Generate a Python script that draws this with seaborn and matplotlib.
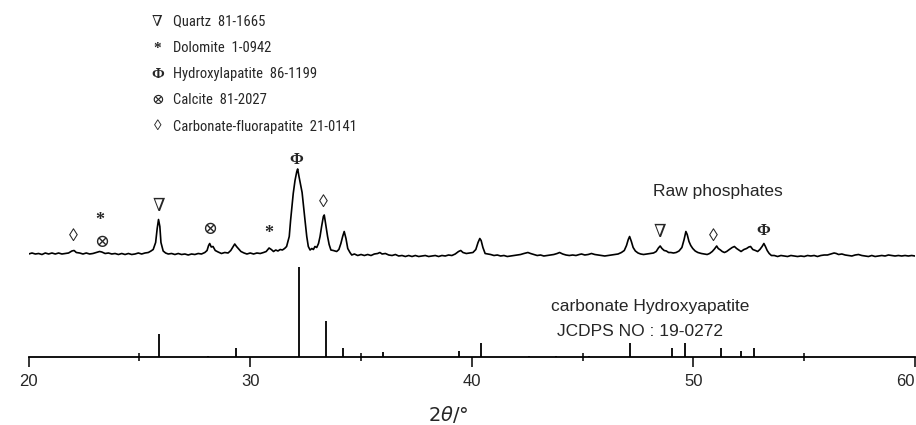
import os
import numpy as np
import pandas as pd
import matplotlib
matplotlib.use("Agg")
import matplotlib.pyplot as plt
import seaborn as sns
from matplotlib import font_manager
from matplotlib.font_manager import FontProperties

# Measured XRD pattern of the raw phosphate (2theta in degrees, counts above background, a.u.)
pattern_2theta = [
    20.00, 20.15, 20.30, 20.45, 20.60, 20.75, 20.90, 21.05, 21.20, 21.35, 21.50, 21.65, 21.80,
    21.95, 22.05, 22.15, 22.30, 22.45, 22.60, 22.75, 22.90, 23.05, 23.20, 23.30, 23.45, 23.60,
    23.75, 23.90, 24.05, 24.20, 24.35, 24.50, 24.65, 24.80, 24.95, 25.10, 25.25, 25.40, 25.52,
    25.62, 25.73, 25.80, 25.86, 25.92, 25.97, 26.07, 26.18, 26.30, 26.45, 26.60, 26.75, 26.90,
    27.05, 27.20, 27.35, 27.50, 27.65, 27.80, 27.95, 28.05, 28.12, 28.17, 28.24, 28.32, 28.42,
    28.55, 28.70, 28.85, 29.00, 29.12, 29.22, 29.30, 29.38, 29.46, 29.58, 29.72, 29.85, 30.00,
    30.15, 30.30, 30.45, 30.60, 30.72, 30.85, 30.95, 31.05, 31.15, 31.25, 31.35, 31.45, 31.55,
    31.64, 31.76, 31.82, 31.88, 31.94, 32.02, 32.10, 32.14, 32.20, 32.29, 32.34, 32.39, 32.47,
    32.55, 32.62, 32.70, 32.78, 32.85, 32.92, 33.00, 33.08, 33.15, 33.22, 33.30, 33.34, 33.40,
    33.49, 33.56, 33.64, 33.75, 33.90, 34.00, 34.09, 34.17, 34.24, 34.32, 34.40, 34.50, 34.58,
    34.70, 34.85, 35.00, 35.15, 35.30, 35.45, 35.60, 35.75, 35.85, 35.95, 36.10, 36.25, 36.40,
    36.55, 36.70, 36.85, 37.00, 37.15, 37.30, 37.45, 37.60, 37.75, 37.90, 38.05, 38.20, 38.35,
    38.50, 38.65, 38.80, 38.95, 39.10, 39.25, 39.40, 39.50, 39.60, 39.75, 39.90, 40.05, 40.18,
    40.28, 40.36, 40.42, 40.50, 40.60, 40.72, 40.85, 41.00, 41.15, 41.30, 41.45, 41.60, 41.75,
    41.90, 42.05, 42.20, 42.35, 42.53, 42.65, 42.80, 42.95, 43.10, 43.25, 43.40, 43.55, 43.70,
    43.85, 43.96, 44.10, 44.25, 44.40, 44.55, 44.70, 44.85, 44.95, 45.10, 45.25, 45.40, 45.55,
    45.70, 45.85, 46.00, 46.15, 46.30, 46.45, 46.60, 46.75, 46.88, 46.98, 47.06, 47.12, 47.20,
    47.28, 47.38, 47.50, 47.62, 47.75, 47.90, 48.05, 48.20, 48.32, 48.42, 48.50, 48.58, 48.68,
    48.78, 48.88, 48.98, 49.10, 49.22, 49.35, 49.48, 49.58, 49.66, 49.72, 49.80, 49.88, 49.97,
    50.08, 50.20, 50.36, 50.50, 50.62, 50.73, 50.85, 50.95, 51.05, 51.12, 51.22, 51.30, 51.40,
    51.50, 51.62, 51.75, 51.85, 51.95, 52.05, 52.15, 52.28, 52.40, 52.50, 52.58, 52.68, 52.80,
    52.90, 53.00, 53.10, 53.18, 53.25, 53.33, 53.42, 53.52, 53.65, 53.80, 53.95, 54.10, 54.25,
    54.40, 54.55, 54.70, 54.85, 55.00, 55.15, 55.30, 55.45, 55.60, 55.75, 55.90, 56.05, 56.20,
    56.35, 56.45, 56.55, 56.70, 56.85, 57.00, 57.15, 57.30, 57.45, 57.60, 57.75, 57.90, 58.05,
    58.20, 58.35, 58.50, 58.65, 58.80, 58.95, 59.10, 59.25, 59.40, 59.55, 59.70, 59.85, 60.00,
]
pattern_counts = [
    2.5, 3.5, 2.5, 3.0, 2.0, 3.5, 2.5, 3.5, 2.5, 3.5, 2.5, 3.0, 3.5,
    5.5, 6.0, 4.0, 3.5, 2.5, 3.5, 2.5, 3.0, 4.0, 5.0, 4.5, 3.0, 3.5,
    2.5, 3.0, 2.0, 3.0, 2.0, 3.0, 2.0, 2.5, 3.5, 2.5, 3.5, 4.0, 5.5,
    7.0, 14.0, 28.0, 37.0, 30.0, 14.0, 5.5, 3.5, 2.5, 3.0, 2.0, 3.0, 2.0,
    2.5, 1.5, 2.5, 2.0, 3.0, 2.5, 4.0, 6.0, 11.0, 13.0, 9.5, 10.0, 6.0,
    4.5, 3.0, 4.0, 3.5, 6.0, 9.5, 12.5, 10.0, 8.0, 5.0, 3.5, 2.5, 3.5,
    2.5, 3.5, 3.0, 4.0, 5.0, 8.5, 7.0, 5.0, 6.5, 5.5, 7.0, 6.5, 8.0,
    10.0, 20.0, 36.0, 50.0, 63.0, 76.0, 85.0, 87.5, 80.0, 70.0, 64.0, 53.0, 36.5,
    20.0, 10.0, 6.5, 8.0, 7.0, 10.0, 9.0, 13.0, 20.0, 30.0, 40.0, 41.5, 33.0,
    20.0, 12.0, 6.5, 6.0, 5.0, 7.0, 13.0, 20.0, 25.0, 18.0, 8.0, 4.0, 1.5,
    2.5, 1.0, 2.0, 1.0, 2.0, 1.0, 2.5, 3.0, 4.0, 2.5, 3.0, 1.5, 1.0,
    2.0, 0.5, 1.0, 0.0, 1.0, 0.0, 1.0, 0.0, 0.5, 1.0, 0.0, 0.5, 1.0,
    0.0, 1.0, 0.5, 1.5, 1.0, 2.5, 5.0, 6.0, 4.0, 3.0, 3.5, 4.0, 7.0,
    14.0, 18.0, 16.0, 9.0, 3.0, 2.5, 2.0, 1.0, 1.5, 0.5, 1.0, 0.0, 0.5,
    1.0, 1.5, 2.0, 3.0, 4.0, 3.0, 2.0, 1.0, 1.5, 0.5, 1.0, 1.5, 2.0,
    3.0, 4.0, 2.5, 1.5, 1.0, 1.5, 1.0, 2.0, 2.5, 1.5, 2.0, 3.0, 2.0,
    1.5, 1.0, 0.5, 1.0, 1.5, 2.0, 2.5, 4.0, 6.0, 11.0, 17.0, 20.0, 15.0,
    9.0, 5.5, 3.5, 2.5, 2.0, 2.5, 3.0, 3.5, 5.0, 8.5, 10.5, 8.0, 6.0,
    5.5, 4.0, 4.0, 3.5, 4.0, 5.5, 9.0, 17.0, 25.0, 22.0, 15.0, 11.0, 8.0,
    5.5, 4.0, 3.0, 2.5, 2.0, 3.0, 5.0, 7.5, 10.5, 8.0, 6.5, 5.0, 4.0,
    5.0, 7.0, 9.0, 10.0, 8.0, 6.5, 5.0, 7.0, 8.0, 9.5, 10.0, 7.0, 6.0,
    5.0, 7.0, 10.0, 13.0, 10.0, 6.0, 3.0, 1.0, 1.0, 0.0, 1.0, 0.5, 0.0,
    1.0, 0.5, 0.0, 0.5, 0.0, 1.0, 0.5, 1.0, 0.0, 1.0, 1.5, 1.5, 2.5,
    3.5, 3.0, 2.0, 2.5, 1.5, 1.0, 0.5, 1.5, 2.0, 1.0, 0.5, 0.0, 1.0,
    0.0, 0.5, 1.0, 0.5, 1.5, 1.0, 0.5, 1.0, 0.5, 1.0, 0.5, 1.0, 0.5,
]

# Reference card: carbonate hydroxyapatite, JCPDS 19-0272 (relative intensity, strongest = 100)
ref_2theta = [25.88, 28.10, 29.36, 32.20, 33.40, 34.20, 36.00, 39.40, 40.40,
              42.60, 43.80, 45.30, 47.12, 49.04, 49.62, 51.26, 52.17, 52.74]
ref_intensity = [26, 1, 10, 100, 40, 10, 6, 7, 16,
                 1, 1, 1, 16, 10, 16, 10, 7, 10]

# Axis ticks
major_ticks = [20, 30, 40, 50, 60]
minor_ticks = [25, 35, 45, 55]
tick_labels = ["20", "30", "40", "50", "60"]

# Phase identification
phase_symbols = ["\u2207", "*", "\u03a6", "\u2297", "\u25ca"]
phase_names = ["Quartz  81-1665", "Dolomite  1-0942", "Hydroxylapatite  86-1199",
               "Calcite  81-2027", "Carbonate-fluorapatite  21-0141"]
peak_symbols = ["\u25ca", "*", "\u2297", "\u2207", "\u2297", "*", "\u03a6", "\u25ca",
                "\u2207", "\u25ca", "\u03a6"]
peak_positions = [22.0, 23.22, 23.28, 25.87, 28.17, 30.85, 32.08, 33.31, 48.48, 50.88, 53.13]

# ---------------------------------------------------------------------------
sns.set_theme(style="white")
plt.rcParams["font.family"] = ["Liberation Sans", "DejaVu Sans"]
plt.rcParams["mathtext.fontset"] = "dejavusans"


def narrow_font():
    """Pick a narrow sans-serif face for the phase key, with a size that suits it."""
    files = {os.path.basename(f.fname).lower(): f.fname
             for f in font_manager.fontManager.ttflist}
    choices = [("liberationsansnarrow-regular.ttf", 11.0),
               ("robotocondensed-regular.ttf", 10.5),
               ("notosans-extracondensed.ttf", 11.5),
               ("notosans-condensed.ttf", 10.5)]
    for fname, size in choices:
        if fname in files:
            return FontProperties(fname=files[fname], size=size)
    return FontProperties(family=["Liberation Sans", "DejaVu Sans"], size=9.5)


key_font = narrow_font()
symbol_family = ["Liberation Serif", "DejaVu Serif", "DejaVu Sans"]

fig = plt.figure(figsize=(9.16, 4.25), dpi=100)
ax = fig.add_axes([0.0313, 0.16, 0.9676, 0.84])

pattern_offset = 100.5   # vertical shift of the measured pattern above the stick card
stick_scale = 0.9        # card height per unit of relative intensity

df = pd.DataFrame({"two_theta": pattern_2theta,
                   "signal": np.asarray(pattern_counts) + pattern_offset})
sns.lineplot(data=df, x="two_theta", y="signal", ax=ax, color="black",
             linewidth=1.2, estimator=None, sort=False)

ax.vlines(ref_2theta, 0, np.asarray(ref_intensity) * stick_scale,
          color="black", linewidth=1.3)

# phase markers over the peaks
sym_sizes = {"\u2207": 13, "*": 13, "\u03a6": 12, "\u2297": 13, "\u25ca": 13}
for sym, pos in zip(peak_symbols, peak_positions):
    top = np.interp(pos, pattern_2theta, pattern_counts) + pattern_offset
    lift = 14
    if sym == "*" and pos < 24:
        lift = 31
    elif sym == "\u2297" and pos < 24:
        lift = 9
    weight = "bold" if sym in ("*", "\u03a6") else "normal"
    ax.text(pos, top + lift, sym, ha="center", va="center",
            fontsize=sym_sizes[sym], family=symbol_family, fontweight=weight)

# phase key at the top
key_y = [335.3, 308.7, 283.0, 257.0, 230.3]
for sym, name, yk in zip(phase_symbols, phase_names, key_y):
    weight = "bold" if sym in ("*", "\u03a6") else "normal"
    ax.text(25.81, yk, sym, ha="center", va="center", fontsize=11,
            family=symbol_family, fontweight=weight)
    ax.text(26.51, yk, name, ha="left", va="center", fontproperties=key_font)

ax.text(51.1, 165.3, "Raw phosphates", ha="center", va="center", fontsize=12.5)
ax.text(48.07, 50.3, "carbonate Hydroxyapatite", ha="center", va="center", fontsize=12.5)
ax.text(47.57, 25.3, "JCDPS NO : 19-0272", ha="center", va="center", fontsize=12.5)

ax.set_xlim(20, 60)
ax.set_ylim(0, 357)
ax.set_xticks(major_ticks)
labels = ax.set_xticklabels(tick_labels)
labels[-1].set_horizontalalignment("right")   # keep "60" inside the figure edge
ax.set_xticks(minor_ticks, minor=True)
ax.set_yticks([])
ax.tick_params(axis="x", which="major", direction="out", length=7, width=1.3,
               labelsize=12, pad=5, bottom=True)
ax.tick_params(axis="x", which="minor", direction="inout", length=6, width=1.3, bottom=True)
for side in ("left", "top", "right"):
    ax.spines[side].set_visible(False)
ax.spines["bottom"].set_linewidth(1.3)
ax.spines["bottom"].set_color("black")
ax.set_ylabel("")
ax.set_xlabel("2$\\it{\\theta}$/\u00b0", fontsize=14, family=["DejaVu Sans"], va="center")
ax.xaxis.set_label_coords(0.473, -0.162)
ax.patch.set_alpha(0)

fig.savefig("out.png", dpi=100, facecolor="white")
